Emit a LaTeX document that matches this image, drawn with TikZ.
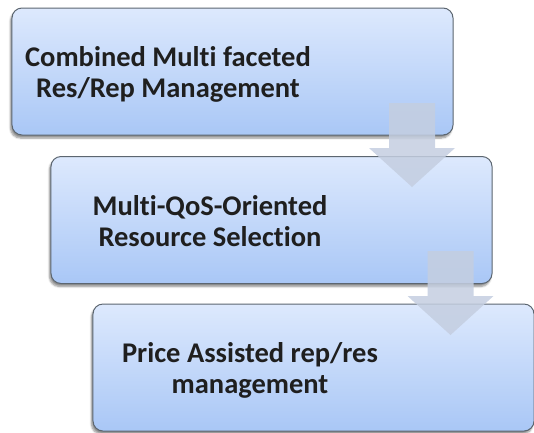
\documentclass[tikz,border=0pt]{standalone}
\usepackage{fontspec}
\setmainfont[Ligatures=NoCommon]{Carlito}
\usetikzlibrary{shadows.blur}
\definecolor{boxtop}{HTML}{DDE9FD}
\definecolor{boxbottom}{HTML}{A9C7F6}
\definecolor{boxline}{HTML}{5C6670}
\definecolor{flowcol}{HTML}{C4CEE0}
\tikzset{
  stagebox/.style={draw=boxline, line width=1bp, rounded corners=10bp,
    top color=boxtop, bottom color=boxbottom,
    minimum width=441bp, minimum height=127bp, inner sep=0pt,
    blur shadow={shadow xshift=-1.5bp, shadow yshift=-3bp, shadow opacity=45, shadow blur steps=6}},
  stagetext/.style={font=\bfseries\fontsize{28.5bp}{31bp}\selectfont, align=center,
    text=black!88, inner sep=0pt},
  flow/.style={fill=flowcol, fill opacity=0.85}
}
% block arrow pointing down: centre x, top y, tip y
\newcommand\stagearrow[3]{%
  \fill[flow] (#1-23,#2) -- (#1+23,#2) -- (#1+23,#3-39) -- (#1+43,#3-39)
    -- (#1,#3) -- (#1-43,#3-39) -- (#1-23,#3-39) -- cycle;}
\begin{document}
\begin{tikzpicture}[x=1bp,y=-1bp]
\useasboundingbox (0,0) rectangle (534,432);
\node[stagebox] (b1) at (232.5,71.5) {};
\node[stagetext] (t1) at (168,74) {Combined Multi faceted\\Res/Rep Management};
\node[stagebox] (b2) at (271.5,220) {};
\node[stagetext] (t2) at (210,221) {Multi-QoS-Oriented\\Resource Selection};
\stagearrow{412}{103}{187}
\node[stagebox] (b3) at (313.5,367.5) {};
\node[stagetext] (t3) at (250,370) {Price Assisted rep/res\\management};
\stagearrow{450.5}{251}{335}
\end{tikzpicture}
\end{document}
